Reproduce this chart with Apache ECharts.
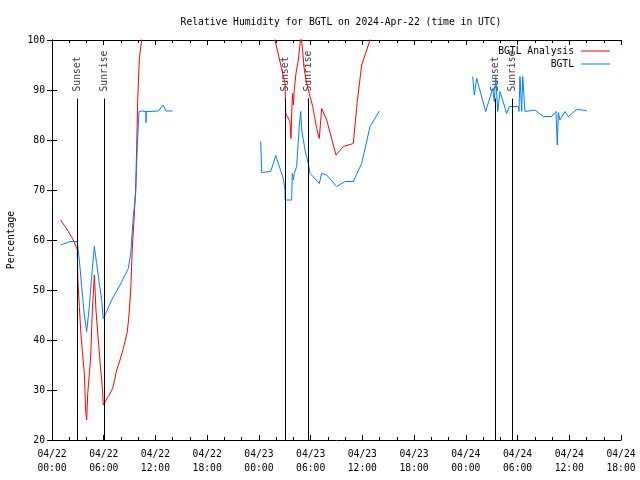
<!DOCTYPE html>
<html>
<head>
<meta charset="utf-8">
<script src="https://cdn.jsdelivr.net/npm/echarts@6/dist/echarts.min.js"></script>
<style>html,body{margin:0;padding:0;background:#fff}#c{width:640px;height:480px}</style>
</head>
<body>
<div id="c"></div>
<script>
// Hours since 2024-04-22 00:00 UTC; null marks a gap
var analysisHours = [1.0, 1.9, 2.47, 2.93, 3.0, 3.17, 3.36, 3.56, 3.75, 3.9, 4.02, 4.14, 4.33, 4.49, 4.68, 4.91, 5.1, 5.37, 5.65, 5.83, 5.95, 6.15, 6.53, 7.04, 7.5, 7.89, 8.27, 8.74, 8.93, 9.13, 9.31, 9.51, 9.7, 9.82, 9.94, 10.13, 10.4, 10.6,
  null,
  25.0, 25.87, 27.03, 27.11, 27.6, 27.72, 27.84, 27.92, 28.0, 28.1, 28.3, 28.57, 28.77, 28.88, 29.03, 29.27, 29.54, 29.85, 30.24, 30.7, 31.0, 31.28, 31.86, 32.17, 32.94, 33.79, 34.95, 35.41, 35.92, 36.89, 37.5];
var analysisValues = [64, 61.7, 60, 58.1, 52, 46.7, 41, 37, 33.3, 26, 24, 29.3, 33.3, 36.7, 46, 53, 46, 40, 34, 30.7, 27, 27.3, 28.7, 30.3, 34, 36, 38.3, 41.7, 45, 50, 58, 64, 70, 78.3, 88, 96.3, 100, 104,
  null,
  108, 100, 91.3, 85.3, 83.7, 80.3, 87.3, 89.3, 87, 90, 93.3, 96, 99.3, 100.5, 98.7, 94, 91.3, 89.3, 86.7, 82.3, 80.3, 86.3, 84, 82, 77, 78.7, 79.3, 87.7, 95, 100, 105];

var obsHours = [1.0, 2.09, 2.93, 3.17, 3.44, 3.75, 4.02, 4.33, 4.6, 4.91, 5.18, 5.49, 5.76, 5.95, 6.23, 6.92, 7.89, 8.85, 9.13, 9.43, 9.63, 9.7, 9.8, 9.9, 10.09, 10.4, 10.9, 10.91, 10.92, 11.37, 12.33, 12.9, 13.22, 14.0,
  null,
  24.21, 24.32, 25.37, 25.95, 26.45, 26.83, 27.03, 27.04, 27.8, 27.87, 28.0, 28.1, 28.38, 28.69, 28.85, 28.96, 29.35, 29.73, 29.93, 30.5, 31.0, 31.28, 31.86, 33.02, 34.0, 34.95, 35.92, 36.89, 37.97,
  null,
  48.8, 48.98, 49.26, 50.3, 51.12, 51.3, 51.47, 51.7, 51.97, 52.74, 53.04, 54.09, 54.17, 54.28, 54.4, 54.48, 54.6, 54.78, 54.86, 55.06, 56.02, 56.99, 57.96, 58.46, 58.61, 58.73, 58.92, 59.5, 59.89, 60.86, 61.56, 62.02];
var obsValues = [59, 59.7, 59.7, 56, 50.7, 45, 41.7, 46.7, 52.7, 58.7, 55.3, 51.3, 48, 44.3, 45.3, 48, 51, 54.3, 57.3, 64.7, 68, 69.3, 74, 79, 85.7, 85.8, 85.7, 83.5, 85.7, 85.7, 85.8, 87, 85.8, 85.8,
  null,
  79.7, 73.5, 73.7, 76.9, 74.3, 72.3, 70, 68, 68, 73.3, 72, 73.3, 74.7, 83, 85.7, 82, 78, 75.3, 73.3, 72.3, 71.3, 73.3, 73, 70.7, 71.7, 71.7, 75.3, 82.7, 85.8,
  null,
  92.7, 89, 92.3, 85.7, 90.3, 87.7, 92.7, 85.7, 89.7, 85.3, 86.7, 86.7, 85.7, 92.7, 92.7, 85.7, 92.7, 92.7, 85.7, 86, 86, 84.7, 84.7, 85.7, 79, 85.5, 84, 85.7, 84.7, 86.1, 86, 85.8];

var sunHours = [2.93, 6.03, 27.1, 29.73, 51.46, 53.4];
var sunNames = ['Sunset', 'Sunrise', 'Sunset', 'Sunrise', 'Sunset', 'Sunrise'];
var sunTop = 88.3;

var xTickLabels = ['04/22\n00:00', '04/22\n06:00', '04/22\n12:00', '04/22\n18:00', '04/23\n00:00', '04/23\n06:00',
  '04/23\n12:00', '04/23\n18:00', '04/24\n00:00', '04/24\n06:00', '04/24\n12:00', '04/24\n18:00'];

function pairs(h, v) {
  var out = [];
  for (var i = 0; i < h.length; i++) {
    if (h[i] === null) out.push([null, '-']); else out.push([h[i], v[i]]);
  }
  return out;
}

var FONT = 'DejaVu Sans Mono';
var FS = 9.7;
var chart = echarts.init(document.getElementById('c'), null, {renderer: 'canvas'});

var sunLabelData = sunHours.map(function (h, i) { return {value: [h, sunTop], name: sunNames[i]}; });
var sunLines = sunHours.map(function (h) { return [{coord: [h, 20]}, {coord: [h, sunTop]}]; });

chart.setOption({
  animation: false,
  backgroundColor: '#fff',
  title: {
    text: 'Relative Humidity for BGTL on 2024-Apr-22 (time in UTC)',
    left: 336, top: 12, textAlign: 'center',
    textStyle: {fontFamily: FONT, fontSize: FS, fontWeight: 'normal', color: '#000'}
  },
  legend: {
    orient: 'vertical', right: 25, top: 41, align: 'right',
    icon: 'rect', itemWidth: 29, itemHeight: 1, itemGap: 3,
    textStyle: {fontFamily: FONT, fontSize: FS, color: '#000', padding: [0, 2, 0, 0]},
    data: ['BGTL Analysis', 'BGTL']
  },
  grid: {left: 52, right: 19, top: 40, bottom: 40, containLabel: false, outerBoundsMode: 'none'},
  xAxis: [{
    type: 'value', min: 0, max: 66, interval: 6,
    axisLine: {show: true, lineStyle: {color: '#000', width: 1}},
    axisTick: {show: true, inside: true, length: 5, lineStyle: {color: '#000'}},
    minorTick: {show: true, splitNumber: 3, length: 3, lineStyle: {color: '#000'}},
    splitLine: {show: false},
    axisLabel: {
      fontFamily: FONT, fontSize: FS, color: '#000', margin: 7, lineHeight: 14,
      formatter: function (v) { return xTickLabels[Math.round(v / 6)]; }
    }
  }, {
    type: 'value', min: 0, max: 66, interval: 6, position: 'top',
    axisLine: {show: true, lineStyle: {color: '#000', width: 1}},
    axisTick: {show: true, inside: true, length: 5, lineStyle: {color: '#000'}},
    minorTick: {show: true, splitNumber: 3, length: 3, lineStyle: {color: '#000'}},
    splitLine: {show: false},
    axisLabel: {show: false}
  }],
  yAxis: [{
    type: 'value', min: 20, max: 100, interval: 10,
    name: 'Percentage', nameLocation: 'middle', nameGap: 34, nameRotate: 90,
    nameTextStyle: {fontFamily: FONT, fontSize: FS, color: '#000'},
    axisLine: {show: true, lineStyle: {color: '#000', width: 1}},
    axisTick: {show: true, inside: true, length: 5, lineStyle: {color: '#000'}},
    splitLine: {show: false},
    axisLabel: {fontFamily: FONT, fontSize: FS, color: '#000', margin: 7}
  }, {
    type: 'value', min: 20, max: 100, interval: 10, position: 'right',
    axisLine: {show: true, lineStyle: {color: '#000', width: 1}},
    axisTick: {show: true, inside: true, length: 5, lineStyle: {color: '#000'}},
    splitLine: {show: false},
    axisLabel: {show: false}
  }],
  series: [{
    name: 'BGTL Analysis', type: 'line', data: pairs(analysisHours, analysisValues),
    symbol: 'none', connectNulls: false, clip: true,
    lineStyle: {color: '#ff0000', width: 1}, itemStyle: {color: '#ff0000'}
  }, {
    name: 'BGTL', type: 'line', data: pairs(obsHours, obsValues),
    symbol: 'none', connectNulls: false, clip: true,
    lineStyle: {color: '#0080ff', width: 1}, itemStyle: {color: '#0080ff'}
  }, {
    name: 'sun', type: 'scatter', data: sunLabelData, symbolSize: 0, silent: true,
    label: {
      show: true, position: 'top', distance: 6, rotate: 90, align: 'left', verticalAlign: 'middle',
      offset: [1, 0],
      formatter: function (p) { return p.name; },
      fontFamily: FONT, fontSize: FS, color: '#000'
    },
    markLine: {
      silent: true, symbol: 'none', animation: false,
      lineStyle: {color: '#000', width: 1, type: 'solid'},
      label: {show: false},
      data: sunLines
    }
  }]
});
</script>
</body>
</html>
